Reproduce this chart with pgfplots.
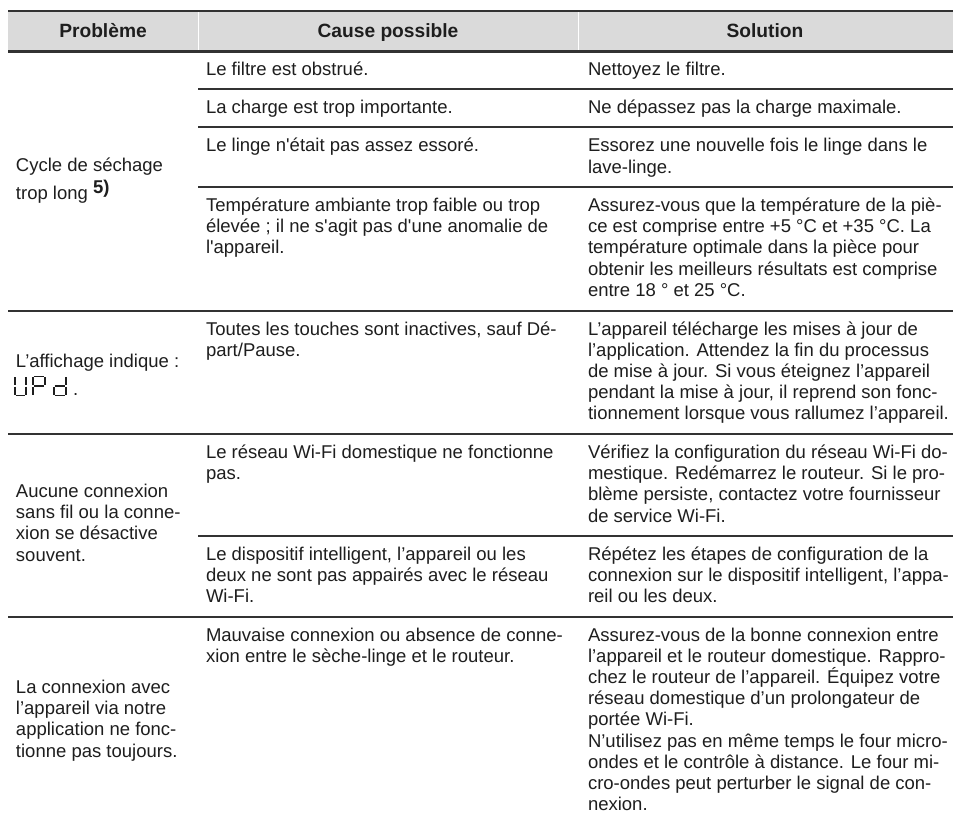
\documentclass[border=0pt]{standalone}
\usepackage{fontspec}
\setmainfont{Liberation Sans}
\usepackage{pgfplots}
\pgfplotsset{compat=1.18}
\definecolor{rulec}{RGB}{50,50,50}
\definecolor{hdr}{RGB}{218,218,218}
\definecolor{txt}{RGB}{30,30,30}
\newcommand{\cell}[1]{\begin{tabular}[t]{@{}l@{}}#1\end{tabular}}
\newcommand{\q}{\textquotesingle}
\tikzset{
  t/.style={font=\fontsize{18.5}{21.2}\selectfont, text=txt, inner sep=0pt, outer sep=0pt, anchor=base west},
  h/.style={font=\fontsize{19.2}{21.2}\selectfont\bfseries, text=txt, inner sep=0pt, outer sep=0pt, anchor=base},
}
\begin{document}
\begin{tikzpicture}
\begin{axis}[
  width=955pt, height=821pt, scale only axis,
  xmin=0, xmax=955, ymin=0, ymax=821, y dir=reverse,
  hide axis, clip=false, no markers,
]
% background
\addplot[draw=none, fill=white] coordinates {(0,0) (955,0) (955,821) (0,821)} -- cycle;
% header
\addplot[draw=none, fill=hdr] coordinates {(8,11) (953,11) (953,51.5) (8,51.5)} -- cycle;
\addplot[white, line width=1pt] coordinates {(198,12) (198,50.5)};
\addplot[white, line width=1pt] coordinates {(578,12) (578,50.5)};
\addplot[rulec, line width=2.2pt] coordinates {(8,11) (953,11)};
\addplot[rulec, line width=2.2pt] coordinates {(8,51.5) (953,51.5)};
% row rules
\addplot[rulec, line width=2pt] coordinates {(198,89) (953,89)};
\addplot[rulec, line width=2pt] coordinates {(198,127.5) (953,127.5)};
\addplot[rulec, line width=2pt] coordinates {(198,187) (953,187)};
\addplot[rulec, line width=2pt] coordinates {(8,310.5) (953,310.5)};
\addplot[rulec, line width=2pt] coordinates {(8,434) (953,434)};
\addplot[rulec, line width=2pt] coordinates {(198,536) (953,536)};
\addplot[rulec, line width=2pt] coordinates {(8,617) (953,617)};
% UPd seven-segment glyph
\addplot[txt, line width=1.3pt] coordinates {(15,377) (15,385.3)};
\addplot[txt, line width=1.3pt] coordinates {(15,386.7) (15,395)};
\addplot[txt, line width=1.3pt] coordinates {(15.7,395.5) (25.3,395.5)};
\addplot[txt, line width=1.3pt] coordinates {(26,377) (26,385.3)};
\addplot[txt, line width=1.3pt] coordinates {(26,386.7) (26,395)};
\addplot[txt, line width=1.3pt] coordinates {(33.7,376.5) (44.3,376.5)};
\addplot[txt, line width=1.3pt] coordinates {(33,377) (33,385.3)};
\addplot[txt, line width=1.3pt] coordinates {(45,377) (45,385.3)};
\addplot[txt, line width=1.3pt] coordinates {(33.7,386) (44.3,386)};
\addplot[txt, line width=1.3pt] coordinates {(33,386.7) (33,395)};
\addplot[txt, line width=1.3pt] coordinates {(66,377) (66,385.3)};
\addplot[txt, line width=1.3pt] coordinates {(66,386.7) (66,395)};
\addplot[txt, line width=1.3pt] coordinates {(54.7,386) (65.3,386)};
\addplot[txt, line width=1.3pt] coordinates {(54,386.7) (54,395)};
\addplot[txt, line width=1.3pt] coordinates {(54.7,395.5) (65.3,395.5)};
% header text
\node[h] at (axis cs:103,38) {Problème};
\node[h] at (axis cs:388,38) {Cause possible};
\node[h] at (axis cs:765,38) {Solution};
% column 1
\node[t] at (axis cs:16,172) {Cycle de séchage};
\node[t] at (axis cs:16,200) {trop long \raisebox{6pt}{\fontsize{18.5}{20}\selectfont\bfseries 5)}};
\node[t] at (axis cs:16,367.5) {L’affichage indique :};
\node[t] at (axis cs:73,395.5) {.};
\node[t] at (axis cs:16,497.5) {\cell{Aucune connexion\\sans fil ou la conne-\\xion se désactive\\souvent.}};
\node[t] at (axis cs:16,693.5) {\cell{La connexion avec\\l’appareil via notre\\application ne fonc-\\tionne pas toujours.}};
% column 2
\node[t] at (axis cs:206,76) {Le filtre est obstrué.};
\node[t] at (axis cs:206,113.5) {La charge est trop importante.};
\node[t] at (axis cs:206,152) {Le linge n\q était pas assez essoré.};
\node[t] at (axis cs:206,211.5) {\cell{Température ambiante trop faible ou trop\\élevée ; il ne s\q agit pas d\q une anomalie de\\l\q appareil.}};
\node[t] at (axis cs:206,335) {\cell{Toutes les touches sont inactives, sauf Dé-\\part/Pause.}};
\node[t] at (axis cs:206,458.5) {\cell{Le réseau Wi-Fi domestique ne fonctionne\\pas.}};
\node[t] at (axis cs:206,560.5) {\cell{Le dispositif intelligent, l’appareil ou les\\deux ne sont pas appairés avec le réseau\\Wi-Fi.}};
\node[t] at (axis cs:206,641) {\cell{Mauvaise connexion ou absence de conne-\\xion entre le sèche-linge et le routeur.}};
% column 3
\node[t] at (axis cs:588,76) {Nettoyez le filtre.};
\node[t] at (axis cs:588,113.5) {Ne dépassez pas la charge maximale.};
\node[t] at (axis cs:588,152) {\cell{Essorez une nouvelle fois le linge dans le\\lave-linge.}};
\node[t] at (axis cs:588,211.5) {\cell{Assurez-vous que la température de la piè-\\ce est comprise entre +5 °C et +35 °C. La\\température optimale dans la pièce pour\\obtenir les meilleurs résultats est comprise\\entre 18 ° et 25 °C.}};
\node[t] at (axis cs:588,335) {\cell{L’appareil télécharge les mises à jour de\\l’application. Attendez la fin du processus\\de mise à jour. Si vous éteignez l’appareil\\pendant la mise à jour, il reprend son fonc-\\tionnement lorsque vous rallumez l’appareil.}};
\node[t] at (axis cs:588,458.5) {\cell{Vérifiez la configuration du réseau Wi-Fi do-\\mestique. Redémarrez le routeur. Si le pro-\\blème persiste, contactez votre fournisseur\\de service Wi-Fi.}};
\node[t] at (axis cs:588,560.5) {\cell{Répétez les étapes de configuration de la\\connexion sur le dispositif intelligent, l’appa-\\reil ou les deux.}};
\node[t] at (axis cs:588,641) {\cell{Assurez-vous de la bonne connexion entre\\l’appareil et le routeur domestique. Rappro-\\chez le routeur de l’appareil. \smash{É}quipez votre\\réseau domestique d’un prolongateur de\\portée Wi-Fi.\\N’utilisez pas en même temps le four micro-\\ondes et le contrôle à distance. Le four mi-\\cro-ondes peut perturber le signal de con-\\nexion.}};
\end{axis}
\end{tikzpicture}
\end{document}
